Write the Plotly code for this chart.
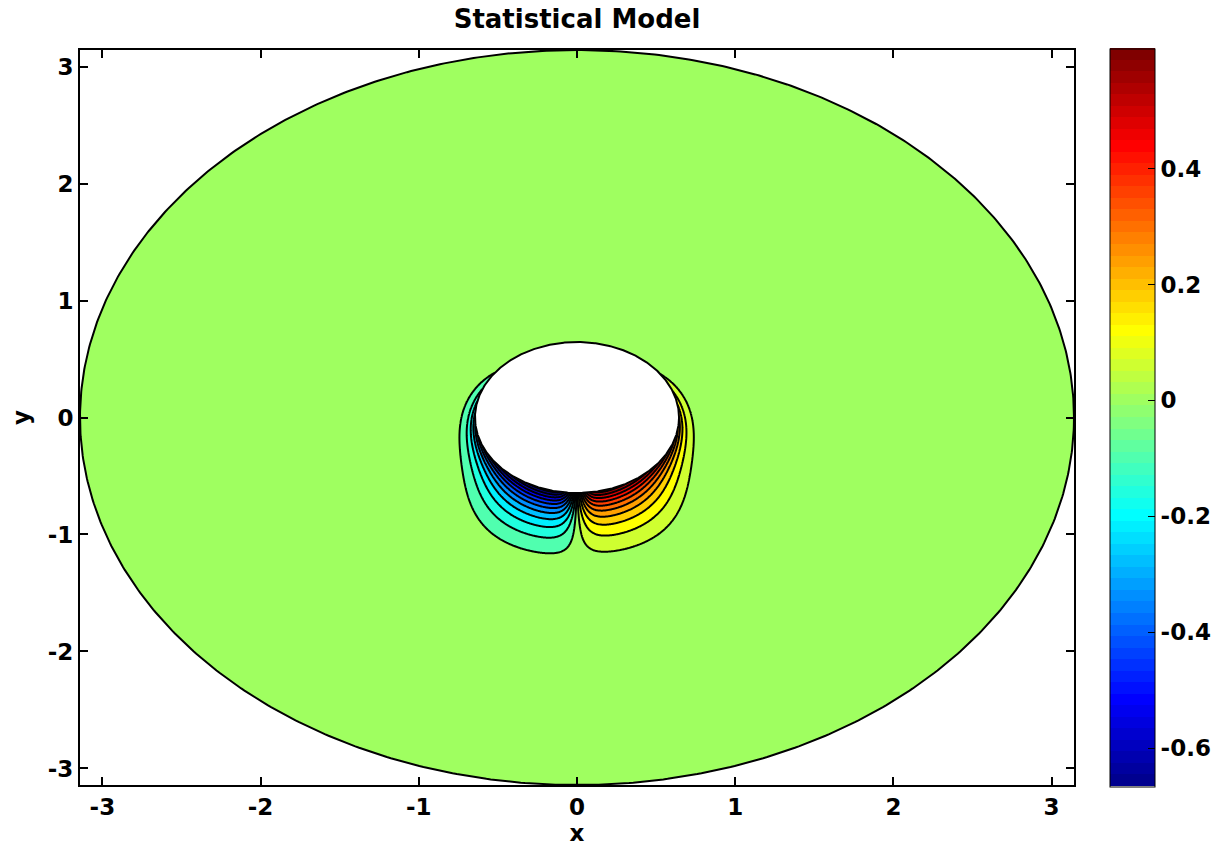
import numpy as np
import plotly.graph_objects as go

# Annulus on which the field is defined
R_INNER = 0.645
R_OUTER = np.pi

# Two-lobe field hanging below the inner cylinder (left negative, right positive)
AMP_NEG = 0.687
AMP_POS = 0.626
ALPHA_PINCH = 0.10       # rad, width of the sign change straight below the cylinder
ALPHA_WIDTH = 1.571      # rad, angular fall-off of the amplitude
ALPHA_POWER = 2.2
ALPHA_CUT = 2.2          # rad, where the lobes die out on the upper side
DECAY_NEAR = 0.215       # radial decay length under the cylinder
DECAY_SIDE = 0.03        # radial decay length on the flanks
DECAY_MID = 0.84         # rad, angle of the transition between the two
DECAY_POWER = 4.0        # sharpness of that transition
TAIL_FACTOR = 2.7        # far-field cut-off, in units of the decay length

# Colour range and contour spacing (range split into 21 equal steps)
Z_MIN = -0.666
Z_MAX = 0.607
N_STEPS = 21

# Tick values and labels
X_TICKS = [-3, -2, -1, 0, 1, 2, 3]
Y_TICKS = [-3, -2, -1, 0, 1, 2, 3]
CB_TICKS = [-0.6, -0.4, -0.2, 0, 0.2, 0.4]
CB_LABELS = ["-0.6", "-0.4", "-0.2", "0", "0.2", "0.4"]

FONT = "DejaVu Sans, Arial, Helvetica, sans-serif"
TICK_SIZE = 23
N_COLORS = 64


def jet(t):
    """MATLAB-style jet colour at position t in [0, 1]."""
    r = np.clip(1.5 - abs(4 * t - 3), 0, 1)
    g = np.clip(1.5 - abs(4 * t - 2), 0, 1)
    b = np.clip(1.5 - abs(4 * t - 1), 0, 1)
    return "rgb(%d,%d,%d)" % (round(r * 255), round(g * 255), round(b * 255))


def jet64(value):
    """Colour of the colormap entry (out of 64) that a value falls in."""
    idx = int(np.floor((value - Z_MIN) / (Z_MAX - Z_MIN) * N_COLORS))
    idx = min(max(idx, 0), N_COLORS - 1)
    return jet((idx + 1) / N_COLORS)


# 64-step jet colour scale for the colour bar
jet_scale = []
for i in range(N_COLORS):
    c = jet((i + 1) / N_COLORS)
    jet_scale.append([i / N_COLORS, c])
    jet_scale.append([(i + 1) / N_COLORS, c])

# Contour levels: N_STEPS levels, half a step in from each end of the range
step = (Z_MAX - Z_MIN) / N_STEPS
lvl_start = Z_MIN + step / 2
lvl_end = Z_MAX - step / 2
levels = [lvl_start + k * step for k in range(N_STEPS)]
n_lv = len(levels)

# One flat colour per band; band j lies between levels j-1 and j
band_scale = []
for j in range(n_lv + 1):
    lo = levels[j - 1] if j > 0 else None
    hi = levels[j] if j < n_lv else None
    if lo is None:
        val = Z_MIN
    elif hi is None:
        val = Z_MAX
    elif lo < 0 < hi:
        val = 0.0
    elif hi <= 0:
        val = lo
    else:
        val = 0.5 * (lo + hi)
    c = jet64(val)
    p0 = max(0.0, (j - 0.5) / n_lv)
    p1 = min(1.0, (j + 0.5) / n_lv)
    band_scale.append([p0, c])
    band_scale.append([p1, c])

# Grid: fine around the cylinder, coarse elsewhere
xs = np.concatenate([
    np.linspace(-np.pi, -1.3, 25)[:-1],
    np.linspace(-1.3, 1.3, 434),
    np.linspace(1.3, np.pi, 25)[1:],
])
ys = np.concatenate([
    np.linspace(-np.pi, -1.45, 25)[:-1],
    np.linspace(-1.45, 0.95, 400),
    np.linspace(0.95, np.pi, 25)[1:],
])
X, Y = np.meshgrid(xs, ys)
r = np.hypot(X, Y)
alpha = np.arctan2(X, -Y)                 # angle measured from straight down
a_abs = np.abs(alpha)
d = np.clip(r - R_INNER, 0, None)

amp = np.where(alpha < 0, AMP_NEG, AMP_POS)
angular = (np.tanh(alpha / ALPHA_PINCH)
           * np.exp(-(a_abs / ALPHA_WIDTH) ** ALPHA_POWER)
           * np.exp(-(a_abs / ALPHA_CUT) ** 8))
decay = DECAY_SIDE + (DECAY_NEAR - DECAY_SIDE) / (1 + (a_abs / DECAY_MID) ** DECAY_POWER)
radial = np.exp(-d / decay - (d / (TAIL_FACTOR * decay)) ** 6)
field = np.round(amp * angular * radial, 4)

fig = go.Figure()

fig.add_trace(go.Contour(
    x=xs, y=ys, z=field,
    autocontour=False,
    contours=dict(start=lvl_start, end=lvl_end + 1e-9, size=step, coloring="fill"),
    colorscale=band_scale,
    showscale=False,
    line=dict(color="black", width=2),
    hoverinfo="skip",
))

# White mask outside the outer circle (rectangle traversed opposite to the circle)
theta = np.linspace(0, 2 * np.pi, 721)
big = 4.0
mask_x = list(R_OUTER * np.cos(theta)) + [big, big, -big, -big, big, big, R_OUTER]
mask_y = list(R_OUTER * np.sin(theta)) + [0, -big, -big, big, big, 0, 0]
fig.add_trace(go.Scatter(
    x=mask_x, y=mask_y, mode="lines", fill="toself", fillcolor="white",
    line=dict(width=0, color="white"), hoverinfo="skip", showlegend=False,
))

# Outer boundary
fig.add_trace(go.Scatter(
    x=R_OUTER * np.cos(theta), y=R_OUTER * np.sin(theta), mode="lines",
    line=dict(color="black", width=2), hoverinfo="skip", showlegend=False,
))

# Inner cylinder (blank)
fig.add_trace(go.Scatter(
    x=R_INNER * np.cos(theta), y=R_INNER * np.sin(theta), mode="lines",
    fill="toself", fillcolor="white",
    line=dict(color="black", width=2), hoverinfo="skip", showlegend=False,
))

# Colour bar
fig.add_trace(go.Scatter(
    x=[0], y=[0], mode="markers", hoverinfo="skip", showlegend=False,
    marker=dict(
        size=0.1, opacity=0, color=[0], colorscale=jet_scale,
        cmin=Z_MIN, cmax=Z_MAX, showscale=True,
        colorbar=dict(
            thickness=45, thicknessmode="pixels",
            len=1.004, lenmode="fraction",
            x=1.035, xanchor="left", xpad=0,
            y=0.5, yanchor="middle", ypad=0,
            outlinewidth=1, outlinecolor="black",
            tickvals=CB_TICKS, ticktext=CB_LABELS,
            ticks="inside", ticklen=7, tickcolor="black", tickwidth=1,
            tickfont=dict(family=FONT, size=TICK_SIZE, color="black", weight="bold"),
        ),
    ),
))

axis_common = dict(
    range=[-np.pi, np.pi],
    ticks="inside", ticklen=8, tickwidth=1.5, tickcolor="black",
    showline=True, linewidth=2, linecolor="black", mirror="ticks",
    showgrid=False, zeroline=False,
    tickfont=dict(family=FONT, size=TICK_SIZE, color="black", weight="bold"),
)

fig.update_layout(
    width=1230, height=850,
    margin=dict(l=80, r=155, t=50, b=65),
    paper_bgcolor="white", plot_bgcolor="white",
    title=dict(
        text="Statistical Model", x=0.5, xref="paper", xanchor="center",
        y=1 - 19 / 850, yref="container", yanchor="middle",
        font=dict(family=FONT, size=26, color="black", weight="bold"),
    ),
    xaxis=dict(
        **axis_common,
        tickvals=X_TICKS, ticktext=[str(v) for v in X_TICKS],
        title=dict(text="x", standoff=0,
                   font=dict(family=FONT, size=TICK_SIZE, color="black", weight="bold")),
    ),
    yaxis=dict(
        **axis_common,
        tickvals=Y_TICKS, ticktext=[str(v) for v in Y_TICKS],
        title=dict(text="y", standoff=12,
                   font=dict(family=FONT, size=TICK_SIZE, color="black", weight="bold")),
    ),
    showlegend=False,
)

fig.write_html("out.html")
